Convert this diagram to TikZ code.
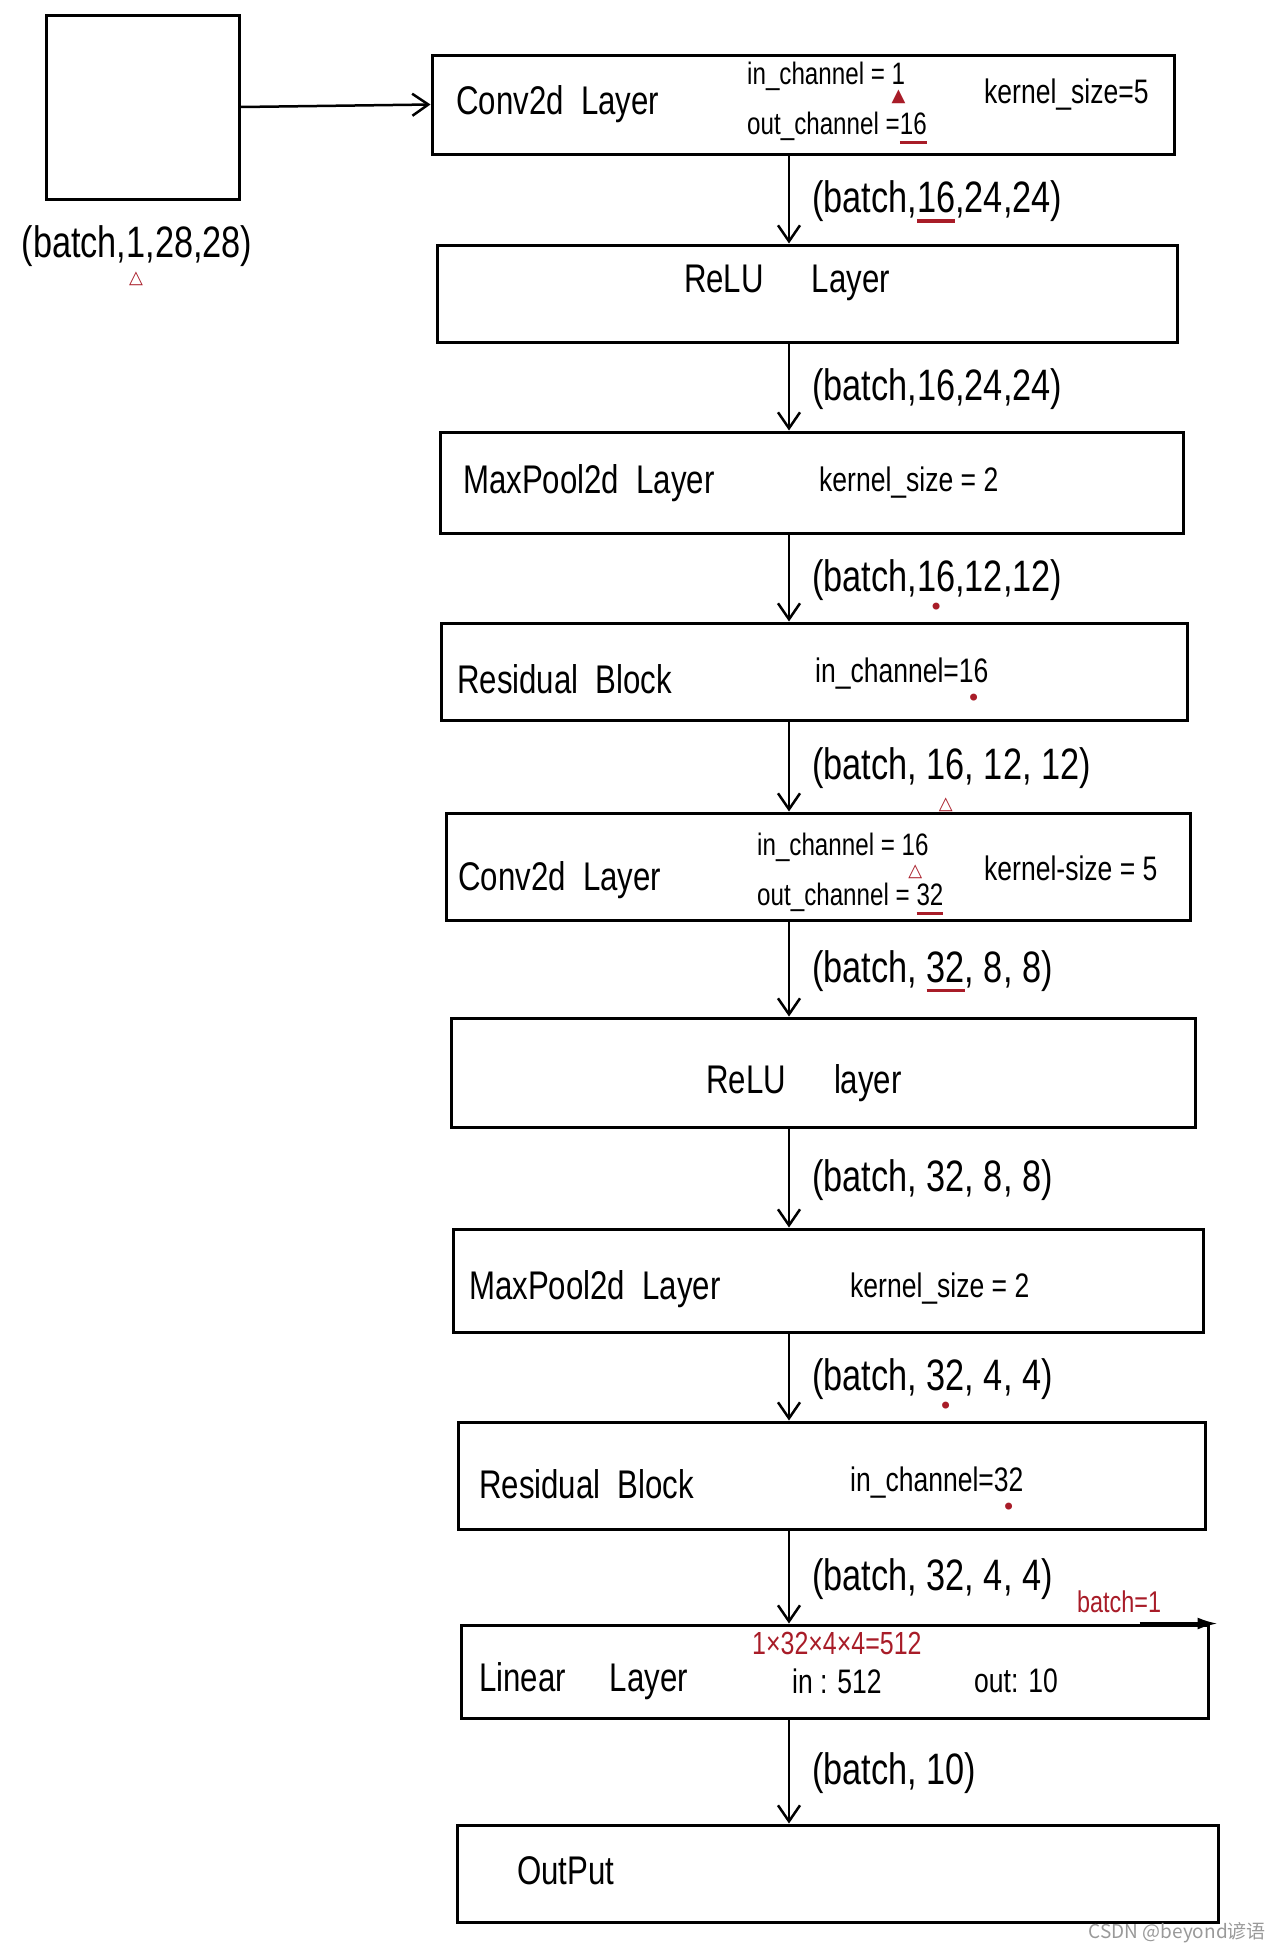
\documentclass[tikz,border=0pt]{standalone}
\usepackage{fontspec}
\setmainfont{Liberation Sans}[FakeStretch=0.78]
\newfontfamily\markfont{DejaVu Sans}
\newfontfamily\cjkfont{Noto Sans CJK SC}
\usetikzlibrary{arrows.meta}
\definecolor{markred}{RGB}{168,28,40}
% red marks under a number
\newcommand{\redline}[1]{\setbox0=\hbox{#1}\rlap{\color{markred}\rule[-10pt]{\wd0}{3.5pt}}\box0}
\newcommand{\reddot}[1]{\setbox0=\hbox{#1}\rlap{\hbox to\wd0{\hss\color{markred}\raisebox{-24pt}{\markfont\fontsize{24}{24}\selectfont •}\hss}}\box0}
\newcommand{\redtri}[3]{\setbox0=\hbox{#3}\rlap{\hbox to\wd0{\hss\color{markred}\raisebox{#2}{\markfont\fontsize{18}{18}\selectfont #1}\hss}}\box0}

\begin{document}
\begin{tikzpicture}[x=1pt,y=-1pt,>={Straight Barb[length=16pt,width=22pt]},
  blk/.style={draw,line width=3pt,inner sep=0pt},
  lbl/.style={inner sep=0pt,font=\fontsize{40}{44}\selectfont},
  parm/.style={inner sep=0pt,font=\fontsize{34}{38}\selectfont},
  chan/.style={inner sep=0pt,font=\fontsize{31}{34}\selectfont},
  shp/.style={inner sep=0pt,font=\fontsize{44}{48}\selectfont},
  dim/.style={shp,anchor=base west,xshift=22pt,yshift=-13pt},
  note/.style={inner sep=0pt,text=markred,font=\fontsize{32}{34}\selectfont},
  flow/.style={->,line width=2.5pt}]
\useasboundingbox (0,0) rectangle (1280,1952);
\coordinate (spine) at (789,0);
% input image
\node[blk,minimum width=193pt,minimum height=184pt] (inp) at (142.5,107) {};
\node[shp,anchor=base] (inlab) at (137,257) {(batch,\redtri{△}{-26pt}{1},28,28)};
% Conv2d 1
\node[blk,minimum width=742pt,minimum height=99pt] (conv1) at (803,104.5) {};
\node[lbl,anchor=west] (conv1n) at (456,104) {Conv2d~~Layer};
\node[chan,anchor=base west] (conv1i) at (747,84) {in\_channel = \redtri{▲}{-17pt}{1}};
\node[chan,anchor=base west] (conv1o) at (747,134) {out\_channel =\redline{16}};
\node[parm,anchor=west] (conv1k) at (984,95) {kernel\_size=5};
% ReLU 1
\node[blk,minimum width=740pt,minimum height=97pt] (relu1) at (807,293.5) {};
\node[lbl] (relu1n) at (787,283) {ReLU\hspace{1.2em}Layer};
% MaxPool 1
\node[blk,minimum width=743pt,minimum height=101pt] (pool1) at (811.5,482.5) {};
\node[lbl,anchor=west] (pool1n) at (463,483) {MaxPool2d~~Layer};
\node[parm,anchor=west] (pool1k) at (819,483) {kernel\_size = 2};
% Residual 1
\node[blk,minimum width=746pt,minimum height=97pt] (res1) at (814,671.5) {};
\node[lbl,anchor=west] (res1n) at (457,679) {Residual~~Block};
\node[parm,anchor=base west] (res1c) at (815,682) {in\_channel=\reddot{16}};
% Conv2d 2
\node[blk,minimum width=744pt,minimum height=107pt] (conv2) at (818,866.5) {};
\node[lbl,anchor=west] (conv2n) at (458,880) {Conv2d~~Layer};
\node[chan,anchor=base west] (conv2i) at (757,855) {in\_channel = \redtri{△}{-21pt}{16}};
\node[chan,anchor=base west] (conv2o) at (757,905) {out\_channel = \redline{32}};
\node[parm,anchor=west] (conv2k) at (984,868) {kernel-size = 5};
% ReLU 2
\node[blk,minimum width=744pt,minimum height=109pt] (relu2) at (823,1072.5) {};
\node[lbl] (relu2n) at (804,1083) {ReLU\hspace{1.2em}layer};
% MaxPool 2
\node[blk,minimum width=750pt,minimum height=103pt] (pool2) at (828,1280.5) {};
\node[lbl,anchor=west] (pool2n) at (469,1289) {MaxPool2d~~Layer};
\node[parm,anchor=west] (pool2k) at (850,1289) {kernel\_size = 2};
% Residual 2
\node[blk,minimum width=747pt,minimum height=107pt] (res2) at (831.5,1475.5) {};
\node[lbl,anchor=west] (res2n) at (479,1484) {Residual~~Block};
\node[parm,anchor=base west] (res2c) at (850,1491) {in\_channel=\reddot{32}};
% Linear
\node[blk,minimum width=747pt,minimum height=93pt] (lin) at (834.5,1671.5) {};
\node[lbl,anchor=west] (linn) at (479,1681) {Linear\hspace{1.1em}Layer};
\node[parm,anchor=west] (lini) at (792,1681) {in : 512};
\node[parm,anchor=west] (lino) at (974,1681) {out: 10};
\node[note,anchor=west] (calc) at (752,1643) {1×32×4×4=512};
\node[note,anchor=west,font=\fontsize{30}{32}\selectfont] (bsz) at (1077,1602) {batch=1};
\draw[line width=2.5pt,-{Latex[length=20pt,width=12pt]}] ([xshift=-70pt]lin.north east) -- ([xshift=8pt]lin.north east);
% Output
\node[blk,minimum width=761pt,minimum height=97pt] (out) at (837.5,1873.5) {};
\node[lbl,anchor=west] (outn) at (517,1871) {OutPut};
% flow
\draw[flow] (inp.east) -- (conv1.west);
\draw[flow] (conv1.south -| spine) -- node[dim] {(batch,\redline{16},24,24)} (relu1.north -| spine);
\draw[flow] (relu1.south -| spine) -- node[dim] {(batch,16,24,24)} (pool1.north -| spine);
\draw[flow] (pool1.south -| spine) -- node[dim] {(batch,\reddot{16},12,12)} (res1.north -| spine);
\draw[flow] (res1.south -| spine) -- node[dim] {(batch, \redtri{△}{-30pt}{16}, 12, 12)} (conv2.north -| spine);
\draw[flow] (conv2.south -| spine) -- node[dim] {(batch, \redline{32}, 8, 8)} (relu2.north -| spine);
\draw[flow] (relu2.south -| spine) -- node[dim] {(batch, 32, 8, 8)} (pool2.north -| spine);
\draw[flow] (pool2.south -| spine) -- node[dim] {(batch, \reddot{32}, 4, 4)} (res2.north -| spine);
\draw[flow] (res2.south -| spine) -- node[dim] {(batch, 32, 4, 4)} (lin.north -| spine);
\draw[flow] (lin.south -| spine) -- node[dim] {(batch, 10)} (out.north -| spine);
% watermark
\node[inner sep=0pt,anchor=east,text=black!40,font=\cjkfont\fontsize{19}{21}\selectfont] (wmark) at (1266,1933) {CSDN @beyond谚语};
\end{tikzpicture}
\end{document}
